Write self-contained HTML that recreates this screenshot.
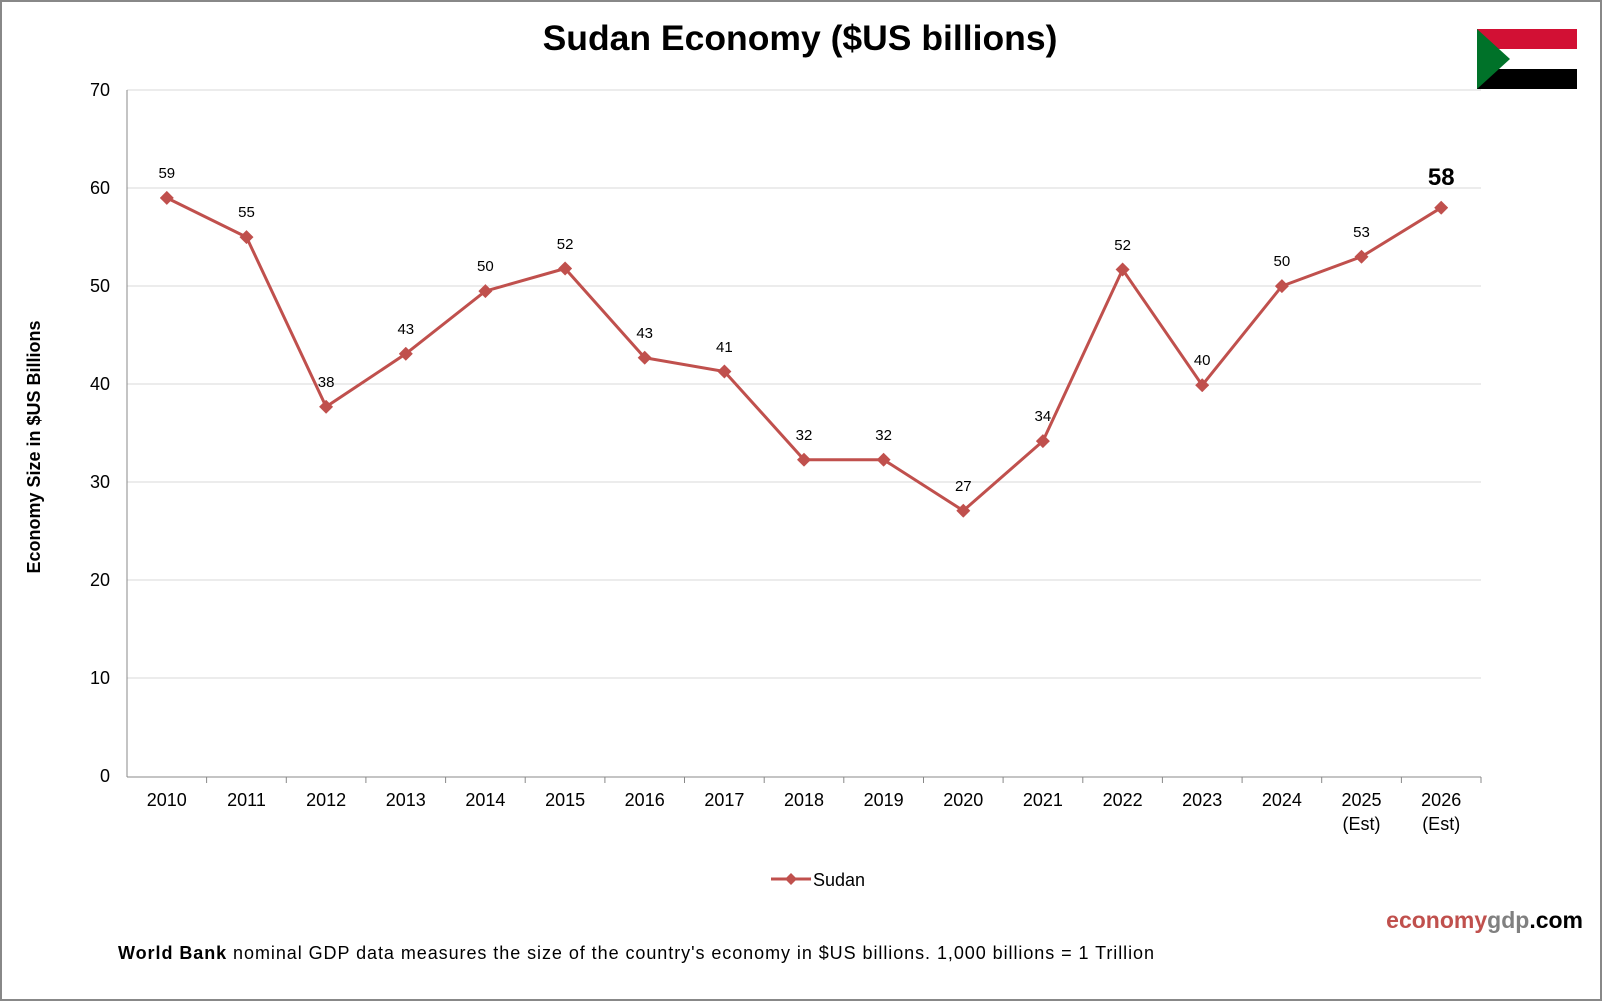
<!DOCTYPE html>
<html><head><style>
body{margin:0;background:#fff}
svg{display:block;font-family:"Liberation Sans",Arial,sans-serif}
</style></head><body>
<svg width="1602" height="1002" viewBox="0 0 1602 1002">
<defs>
<marker id="d" viewBox="-7 -7 14 14" markerWidth="14" markerHeight="14" markerUnits="userSpaceOnUse" refX="0" refY="0">
<polygon points="0,-7 7,0 0,7 -7,0" fill="#c0504d"/>
</marker>
</defs>
<rect x="1" y="1" width="1600" height="999" fill="#fff" stroke="#888" stroke-width="2"/>
<text x="800" y="50" text-anchor="middle" font-size="35.5" font-weight="bold">Sudan Economy ($US billions)</text>
<g>
<rect x="1477" y="29" width="100" height="20" fill="#d21034"/>
<rect x="1477" y="49" width="100" height="20" fill="#fff"/>
<rect x="1477" y="69" width="100" height="20" fill="#000"/>
<polygon points="1477,29 1510,59 1477,89" fill="#007229"/>
</g>
<g stroke="#d9d9d9" stroke-width="1">
<line x1="127" y1="90" x2="1481" y2="90"/>
<line x1="127" y1="188" x2="1481" y2="188"/>
<line x1="127" y1="286" x2="1481" y2="286"/>
<line x1="127" y1="384" x2="1481" y2="384"/>
<line x1="127" y1="482" x2="1481" y2="482"/>
<line x1="127" y1="580" x2="1481" y2="580"/>
<line x1="127" y1="678" x2="1481" y2="678"/>
</g>
<g stroke="#888" stroke-width="1">
<line x1="127" y1="90" x2="127" y2="777"/>
<line x1="127" y1="777" x2="1481" y2="777"/>
<line x1="206.6" y1="777" x2="206.6" y2="783"/><line x1="286.3" y1="777" x2="286.3" y2="783"/>
<line x1="365.9" y1="777" x2="365.9" y2="783"/><line x1="445.6" y1="777" x2="445.6" y2="783"/>
<line x1="525.2" y1="777" x2="525.2" y2="783"/><line x1="604.9" y1="777" x2="604.9" y2="783"/>
<line x1="684.5" y1="777" x2="684.5" y2="783"/><line x1="764.2" y1="777" x2="764.2" y2="783"/>
<line x1="843.8" y1="777" x2="843.8" y2="783"/><line x1="923.5" y1="777" x2="923.5" y2="783"/>
<line x1="1003.1" y1="777" x2="1003.1" y2="783"/><line x1="1082.8" y1="777" x2="1082.8" y2="783"/>
<line x1="1162.4" y1="777" x2="1162.4" y2="783"/><line x1="1242.1" y1="777" x2="1242.1" y2="783"/>
<line x1="1321.7" y1="777" x2="1321.7" y2="783"/><line x1="1401.4" y1="777" x2="1401.4" y2="783"/>
<line x1="1481" y1="777" x2="1481" y2="783"/>
</g>
<g font-size="18" text-anchor="end" fill="#000">
<text x="110" y="96">70</text><text x="110" y="194">60</text><text x="110" y="292">50</text>
<text x="110" y="390">40</text><text x="110" y="488">30</text><text x="110" y="586">20</text>
<text x="110" y="684">10</text><text x="110" y="782">0</text>
</g>
<text transform="translate(40,447) rotate(-90)" text-anchor="middle" font-size="18" font-weight="bold">Economy Size in $US Billions</text>
<g font-size="18" text-anchor="middle">
<text x="166.8" y="806">2010</text><text x="246.5" y="806">2011</text><text x="326.1" y="806">2012</text>
<text x="405.8" y="806">2013</text><text x="485.4" y="806">2014</text><text x="565.1" y="806">2015</text>
<text x="644.7" y="806">2016</text><text x="724.4" y="806">2017</text><text x="804" y="806">2018</text>
<text x="883.6" y="806">2019</text><text x="963.3" y="806">2020</text><text x="1042.9" y="806">2021</text>
<text x="1122.6" y="806">2022</text><text x="1202.2" y="806">2023</text><text x="1281.9" y="806">2024</text>
<text x="1361.5" y="806">2025</text><text x="1441.2" y="806">2026</text>
<text x="1361.5" y="830">(Est)</text><text x="1441.2" y="830">(Est)</text>
</g>
<polyline points="166.8,197.9 246.5,237.1 326.1,406.8 405.8,353.8 485.4,291.1 565.1,268.5 644.7,357.7 724.4,371.5 804,459.7 883.6,459.7 963.3,510.7 1042.9,441.1 1122.6,269.5 1202.2,385.2 1281.9,286.1 1361.5,256.7 1441.2,207.7" fill="none" stroke="#c0504d" stroke-width="3" marker-start="url(#d)" marker-mid="url(#d)" marker-end="url(#d)"/>
<g font-size="15" text-anchor="middle">
<text x="166.8" y="178">59</text><text x="246.5" y="217">55</text><text x="326.1" y="387">38</text>
<text x="405.8" y="334">43</text><text x="485.4" y="271">50</text><text x="565.1" y="249">52</text>
<text x="644.7" y="338">43</text><text x="724.4" y="352">41</text><text x="804" y="440">32</text>
<text x="883.6" y="440">32</text><text x="963.3" y="491">27</text><text x="1042.9" y="421">34</text>
<text x="1122.6" y="250">52</text><text x="1202.2" y="365">40</text><text x="1281.9" y="266">50</text>
<text x="1361.5" y="237">53</text>
</g>
<text x="1441.2" y="185" text-anchor="middle" font-size="24" font-weight="bold">58</text>
<g transform="translate(771,879)">
<line x1="0" y1="0" x2="40" y2="0" stroke="#c0504d" stroke-width="3"/>
<polygon points="20,-6 26,0 20,6 14,0" fill="#c0504d"/>
<text x="42" y="7" font-size="18">Sudan</text>
</g>
<text x="1583" y="928" text-anchor="end" font-size="23" font-weight="bold"><tspan fill="#c0504d">economy</tspan><tspan fill="#808080">gdp</tspan><tspan fill="#000">.com</tspan></text>
<text x="118" y="959" font-size="18" textLength="1036" lengthAdjust="spacing"><tspan font-weight="bold">World Bank</tspan> nominal GDP data  measures the size of the country's economy in $US billions. 1,000 billions = 1 Trillion</text>
</svg>
</body></html>
